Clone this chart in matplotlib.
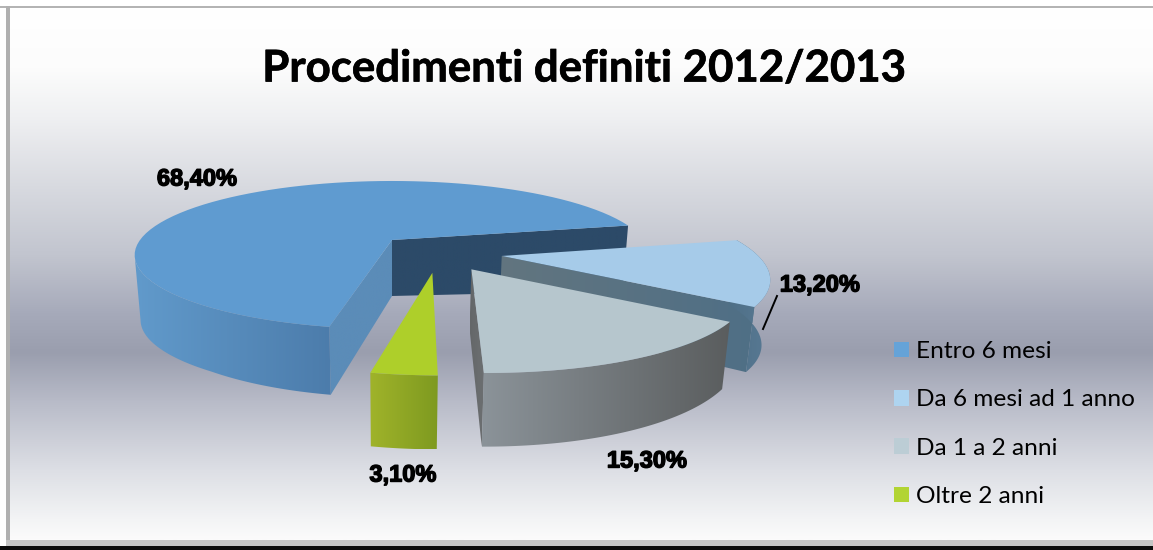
import numpy as np
import matplotlib
matplotlib.use("Agg")
import matplotlib.pyplot as plt
import matplotlib.patheffects as pe
from matplotlib.colors import LinearSegmentedColormap
from matplotlib.patches import Patch, Polygon

title = "Procedimenti definiti 2012/2013"
categories = ["Entro 6 mesi", "Da 6 mesi ad 1 anno", "Da 1 a 2 anni", "Oltre 2 anni"]
values = [68.4, 13.2, 15.3, 3.1]
value_labels = ["68,40%", "13,20%", "15,30%", "3,10%"]

top_colors = ["#5f9bd0", "#a6cbe9", "#b6c6cd", "#aecf2a"]
legend_colors = ["#65a3d8", "#aed4f0", "#bccdd5", "#b2d433"]
wall_colors = [("#619acb", "#4c7cab"), ("#4f6f86", "#587a95"), ("#8b9399", "#5a5d5e"), ("#a0b32a", "#7e9a20")]

# pie geometry: a flat disc seen in perspective
CX, CY, A, B, K, DEPTH = 392, 240, 252, 71, 0.203, 56
SHRINK = 0.977
START = 258.5
explode_u = [0, 0.39, 0.27, 0.137]
explode_v = [0, -0.215, -0.357, -0.375]
apex_dx = [0, 7, 6, 3]
apex_dy = [0, 0, 2, 4]


def project(u, v):
    w = 1 + K * v
    return CX + A * u / w, CY - B * v / w, w


def arc(i, t1, t2):
    t = np.radians(np.linspace(t1, t2, 80))
    x, y, w = project(explode_u[i] + np.cos(t), explode_v[i] + np.sin(t))
    d = 65 + np.clip(0.84 - w, 0, None) * 75
    return x, y, d


def apex(i):
    x, y, w = project(explode_u[i], explode_v[i])
    return x + apex_dx[i], y + apex_dy[i], DEPTH / w ** 0.8


def down(x):
    return CX + (x - CX) * SHRINK


def grad_fill(ax, pts, c1, c2, z):
    pts = np.array(pts)
    poly = Polygon(pts, closed=True, fc="none", ec="none", zorder=z)
    ax.add_patch(poly)
    cmap = LinearSegmentedColormap.from_list("g", [c1, c2])
    im = ax.imshow(np.linspace(0, 1, 256)[None, :], cmap=cmap, aspect="auto", zorder=z,
                   extent=(pts[:, 0].min(), pts[:, 0].max(), pts[:, 1].max(), pts[:, 1].min()))
    im.set_clip_path(poly)


def wall(ax, i, t1, t2, c1, c2, z):
    x, y, d = arc(i, t1, t2)
    pts = np.r_[np.c_[x, y], np.c_[down(x), y + d][::-1]]
    grad_fill(ax, pts, c1, c2, z)


def side(ax, i, t, c1, c2, z):
    x0, y0, d0 = apex(i)
    x1, y1, d1 = arc(i, t, t)
    pts = [(x0, y0), (x1[0], y1[0]), (down(x1[0]), y1[0] + d1[0]), (down(x0), y0 + d0)]
    grad_fill(ax, pts, c1, c2, z)


def top(ax, i, t1, t2, z):
    x0, y0, _ = apex(i)
    x, y, _ = arc(i, t1, t2)
    ax.add_patch(Polygon(np.r_[[[x0, y0]], np.c_[x, y]], fc=top_colors[i], ec="none", zorder=z))


fig = plt.figure(figsize=(11.53, 5.5), dpi=100)
ax = fig.add_axes([0, 0, 1, 1])

# background gradient
stops_y = [0, 60, 110, 180, 250, 310, 350, 400, 470, 520, 540]
stops_c = ["#ffffff", "#fcfcfc", "#eff0f2", "#d8dae0", "#c2c5cf", "#a6aaba", "#9a9eae",
           "#b8bbc8", "#dddfe5", "#f3f4f5", "#fbfbfb"]
bg = LinearSegmentedColormap.from_list("bg", [(y / 540, c) for y, c in zip(stops_y, stops_c)])
ax.imshow(np.linspace(0, 1, 256)[:, None], cmap=bg, aspect="auto", extent=(8, 1153, 540, 8), zorder=0)

# frame
ax.fill_between([0, 1153], 5.5, 8, color="#b4b4b4", lw=0, zorder=1)
ax.fill_between([5.5, 10], 6, 546, color="#b0b0b0", lw=0, zorder=1)
ax.fill_between([5.5, 1153], 540, 546, color="#c4c4c4", lw=0, zorder=1)
ax.fill_between([0, 1153], 546, 550, color="#0a0a0a", lw=0, zorder=1)

# slices, back to front
angles = START - np.r_[0, np.cumsum(values)] * 3.6
side(ax, 0, angles[1], "#2c4a68", "#2c4a68", 2)
side(ax, 0, angles[0], "#5b8cb8", "#5b8cb8", 3)
wall(ax, 0, 192, angles[0], *wall_colors[0], 3)
top(ax, 0, angles[0], angles[1], 4)

side(ax, 1, angles[2], "#62757f", "#4f6f86", 5)
wall(ax, 1, angles[2], angles[1], *wall_colors[1], 5)
top(ax, 1, angles[1], angles[2], 6)

side(ax, 2, angles[3], "#646769", "#6d7072", 7)
wall(ax, 2, angles[3], angles[2], *wall_colors[2], 7)
top(ax, 2, angles[2], angles[3], 8)

wall(ax, 3, angles[4], angles[3], *wall_colors[3], 9)
top(ax, 3, angles[3], angles[4], 10)

# labels
stroke = [pe.withStroke(linewidth=1.0, foreground="black")]
label_x = [197, 820, 647, 403]
label_y = [179, 285, 461, 475]
for s, lx, ly in zip(value_labels, label_x, label_y):
    ax.text(lx, ly, s, ha="center", va="center", fontsize=17, fontweight="bold",
            family="Liberation Sans", color="black", path_effects=stroke, zorder=30)
ax.plot([777, 763], [296, 329], color="black", lw=1.4, zorder=30)

ax.text(584, 68.5, title, ha="center", va="center", fontsize=31.5, fontweight="bold",
        family="Lato", color="black", zorder=30,
        path_effects=[pe.withStroke(linewidth=0.5, foreground="black")])

handles = [Patch(fc=c, ec="none") for c in legend_colors]
leg = ax.legend(handles, categories, loc="upper left", bbox_to_anchor=(894 / 1153, 1 - 341 / 550),
                frameon=False, handlelength=0.61, handleheight=0.61, handletextpad=0.29,
                labelspacing=1.12, borderpad=0, borderaxespad=0,
                prop={"family": "Lato", "size": 17.6})
leg.set_zorder(30)

ax.set_xlim(0, 1153)
ax.set_ylim(550, 0)
ax.axis("off")
fig.savefig("out.png", dpi=100)
